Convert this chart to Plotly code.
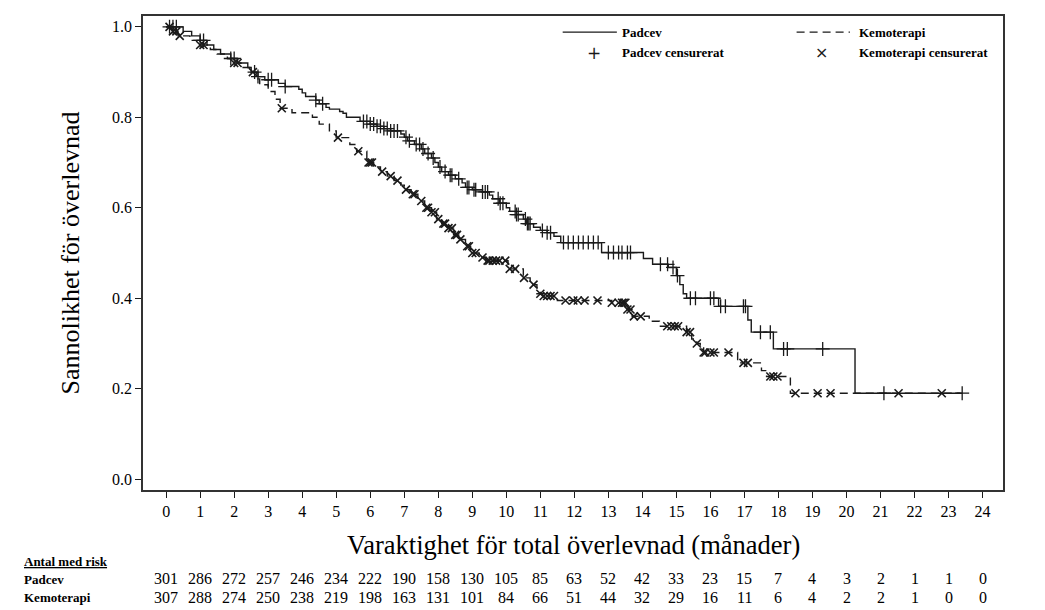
import numpy as np
import plotly.graph_objects as go

# ---------------- data ----------------
# Kaplan-Meier step points (time in months, survival after the step)
padcev_t = [0, 0.5, 0.75, 1.0, 1.2, 1.4, 1.6, 1.9, 2.1, 2.4, 2.5, 2.7, 2.9, 3.3, 3.5, 3.9,
            4.0, 4.1, 4.4, 4.5, 4.7, 4.8, 5.1, 5.2, 5.3, 5.7, 6.0, 6.2, 6.4, 6.6, 6.9,
            7.0, 7.1, 7.3, 7.5, 7.6, 7.8, 7.9, 8.0, 8.1, 8.3, 8.5, 8.7, 8.8, 9.0, 9.3,
            9.5, 9.6, 9.8, 10.0, 10.1, 10.3, 10.5, 10.6, 10.8, 11.0, 11.2, 11.4, 11.6,
            12.8, 14.03, 14.3, 14.76, 15.0, 15.1, 15.2, 15.3, 16.24, 17.1, 17.2, 17.85,
            20.25, 23.4]
padcev_s = [1.0, 0.99, 0.98, 0.97, 0.96, 0.95, 0.94, 0.93, 0.92, 0.91, 0.90, 0.89, 0.883,
            0.875, 0.868, 0.862, 0.854, 0.846, 0.838, 0.83, 0.822, 0.818, 0.813, 0.809,
            0.80, 0.791, 0.785, 0.78, 0.775, 0.77, 0.763, 0.756, 0.748, 0.74, 0.73, 0.72,
            0.71, 0.70, 0.69, 0.68, 0.672, 0.664, 0.655, 0.645, 0.64, 0.635, 0.628, 0.62,
            0.61, 0.60, 0.592, 0.585, 0.575, 0.565, 0.557, 0.55, 0.545, 0.537, 0.523,
            0.501, 0.488, 0.475, 0.468, 0.45, 0.43, 0.41, 0.40, 0.382, 0.352, 0.325,
            0.288, 0.19, 0.19]

kemo_t = [0, 0.2, 0.35, 0.7, 1.0, 1.3, 1.5, 1.8, 2.0, 2.2, 2.5, 2.65, 2.75, 3.0, 3.2, 3.35,
          3.7, 4.3, 4.5, 4.8, 5.0, 5.4, 5.6, 5.9, 6.1, 6.3, 6.5, 6.7, 6.9, 7.0, 7.2, 7.4,
          7.6, 7.8, 7.95, 8.1, 8.3, 8.45, 8.6, 8.8, 8.95, 9.2, 9.4, 10.05, 10.5, 10.7,
          10.9, 11.1, 11.5, 13.1, 13.55, 13.7, 14.2, 14.5, 15.3, 15.45, 15.6, 15.7, 15.8,
          16.8, 17.5, 17.65, 18.35, 23.35]
kemo_s = [1.0, 0.99, 0.98, 0.97, 0.96, 0.95, 0.94, 0.93, 0.92, 0.91, 0.90, 0.885, 0.872,
          0.857, 0.84, 0.82, 0.81, 0.80, 0.785, 0.77, 0.755, 0.74, 0.725, 0.70, 0.69,
          0.68, 0.67, 0.66, 0.65, 0.64, 0.63, 0.615, 0.60, 0.59, 0.575, 0.565, 0.555,
          0.54, 0.53, 0.515, 0.50, 0.49, 0.483, 0.465, 0.445, 0.43, 0.41, 0.405, 0.395,
          0.39, 0.375, 0.36, 0.349, 0.338, 0.325, 0.31, 0.30, 0.29, 0.28, 0.257, 0.24,
          0.227, 0.19, 0.19]

# censoring times
padcev_cens = [0.1, 0.2, 0.3, 1.0, 1.1, 1.9, 2.0, 2.6, 2.7, 3.0, 3.1, 3.5, 4.4, 4.6,
               5.8, 5.9, 6.0, 6.1, 6.2, 6.3, 6.4, 6.5, 6.6, 6.7, 6.8, 7.05, 7.15, 7.35,
               7.45, 7.55, 7.7, 7.85, 8.05, 8.2, 8.35, 8.4, 8.6, 8.85, 8.9, 9.05, 9.1,
               9.3, 9.38, 9.45, 9.76, 9.82, 9.9, 10.26, 10.3, 10.35, 10.56, 10.62, 10.66,
               10.7, 11.06, 11.2, 11.3, 11.68, 11.82, 11.97, 12.12, 12.26, 12.41, 12.56,
               12.7, 13.0, 13.15, 13.3, 13.4, 13.56, 13.65, 14.53, 14.74, 14.9, 15.03,
               15.41, 15.56, 16.0, 16.1, 16.3, 16.44, 16.97, 17.03, 17.47, 17.76, 18.15,
               18.26, 19.3, 21.1, 23.4]
kemo_cens = [0.1, 0.2, 0.3, 0.4, 1.0, 1.1, 2.0, 2.1, 2.55, 3.4, 5.05, 5.65, 5.95, 6.0,
             6.05, 6.35, 6.6, 6.8, 7.05, 7.25, 7.3, 7.5, 7.65, 7.7, 7.8, 7.9, 8.0, 8.15,
             8.2, 8.3, 8.4, 8.5, 8.55, 8.65, 8.85, 8.9, 9.0, 9.1, 9.3, 9.45, 9.5, 9.6,
             9.7, 9.8, 9.97, 10.1, 10.26, 10.52, 10.8, 11.0, 11.1, 11.2, 11.3, 11.4,
             11.74, 11.97, 12.1, 12.3, 12.68, 13.1, 13.3, 13.4, 13.45, 13.5, 13.56,
             13.65, 13.75, 13.95, 14.73, 14.85, 14.95, 15.05, 15.3, 15.4, 15.6, 15.8,
             15.85, 16.0, 16.1, 16.53, 16.97, 17.1, 17.76, 17.85, 17.97, 18.5, 19.15,
             19.53, 21.53, 22.8]

x_ticks = list(range(0, 25))
y_ticks = [0.0, 0.2, 0.4, 0.6, 0.8, 1.0]
risk_padcev = [301, 286, 272, 257, 246, 234, 222, 190, 158, 130, 105, 85, 63, 52, 42, 33,
               23, 15, 7, 4, 3, 2, 1, 1, 0]
risk_kemo = [307, 288, 274, 250, 238, 219, 198, 163, 131, 101, 84, 66, 51, 44, 32, 29,
             16, 11, 6, 4, 2, 2, 1, 0, 0]

# ---------------- figure ----------------
FONT = "Liberation Serif"
INK = "#1a1a1a"


def km_at(times, surv, t):
    t_arr = np.asarray(times)
    s_arr = np.asarray(surv)
    idx = np.searchsorted(t_arr, np.asarray(t), side="right") - 1
    return s_arr[np.clip(idx, 0, len(s_arr) - 1)]


fig = go.Figure()
fig.add_trace(go.Scatter(x=padcev_t, y=padcev_s, mode="lines", line_shape="hv",
                         line=dict(color=INK, width=1.4), name="Padcev", showlegend=False))
fig.add_trace(go.Scatter(x=kemo_t, y=kemo_s, mode="lines", line_shape="hv",
                         line=dict(color=INK, width=1.4, dash="8px,5px"),
                         name="Kemoterapi", showlegend=False))
fig.add_trace(go.Scatter(x=padcev_cens, y=km_at(padcev_t, padcev_s, padcev_cens),
                         mode="markers",
                         marker=dict(symbol="cross-thin", size=10,
                                     line=dict(color=INK, width=1.3)),
                         name="Padcev censurerat", showlegend=False))
fig.add_trace(go.Scatter(x=kemo_cens, y=km_at(kemo_t, kemo_s, kemo_cens),
                         mode="markers",
                         marker=dict(symbol="x-thin", size=8,
                                     line=dict(color=INK, width=1.6)),
                         name="Kemoterapi censurerat", showlegend=False))

# legend (drawn manually, top right inside plot)
leg_font = dict(family=FONT, size=13, color="black")
fig.add_shape(type="line", xref="paper", yref="paper", x0=0.488, x1=0.551, y0=0.966, y1=0.966,
              line=dict(color=INK, width=1.4))
fig.add_shape(type="line", xref="paper", yref="paper", x0=0.760, x1=0.822, y0=0.966, y1=0.966,
              line=dict(color=INK, width=1.4, dash="8px,5px"))
fig.add_annotation(xref="paper", yref="paper", x=0.5547, y=0.966, text="<b>Padcev</b>",
                   showarrow=False, xanchor="left", yanchor="middle", font=leg_font)
fig.add_annotation(xref="paper", yref="paper", x=0.830, y=0.966, text="<b>Kemoterapi</b>",
                   showarrow=False, xanchor="left", yanchor="middle", font=leg_font)
fig.add_annotation(xref="paper", yref="paper", x=0.5547, y=0.922,
                   text="<b>Padcev censurerat</b>",
                   showarrow=False, xanchor="left", yanchor="middle", font=leg_font)
fig.add_annotation(xref="paper", yref="paper", x=0.830, y=0.922,
                   text="<b>Kemoterapi censurerat</b>",
                   showarrow=False, xanchor="left", yanchor="middle", font=leg_font)
fig.add_annotation(xref="paper", yref="paper", x=0.5244, y=0.922, text="+",
                   showarrow=False, xanchor="center", yanchor="middle",
                   font=dict(family="DejaVu Sans", size=17, color=INK))
fig.add_annotation(xref="paper", yref="paper", x=0.7895, y=0.922, text="×",
                   showarrow=False, xanchor="center", yanchor="middle",
                   font=dict(family="DejaVu Sans", size=16, color=INK))

# risk table
num_font = dict(family=FONT, size=16, color="black")
lab_font = dict(family=FONT, size=13, color="black")
fig.add_annotation(xref="paper", yref="paper", x=-0.141, y=-0.151,
                   text="<b><u>Antal med risk</u></b>", showarrow=False,
                   xanchor="left", yanchor="middle", font=lab_font)
fig.add_annotation(xref="paper", yref="paper", x=-0.141, y=-0.189, text="<b>Padcev</b>",
                   showarrow=False, xanchor="left", yanchor="middle", font=lab_font)
fig.add_annotation(xref="paper", yref="paper", x=-0.141, y=-0.227, text="<b>Kemoterapi</b>",
                   showarrow=False, xanchor="left", yanchor="middle", font=lab_font)
for xv, rp, rk in zip(x_ticks, risk_padcev, risk_kemo):
    fig.add_annotation(xref="x", yref="paper", x=xv, y=-0.187, text=str(rp),
                       showarrow=False, xanchor="center", yanchor="middle", font=num_font)
    fig.add_annotation(xref="x", yref="paper", x=xv, y=-0.227, text=str(rk),
                       showarrow=False, xanchor="center", yanchor="middle", font=num_font)

# x-axis title
fig.add_annotation(xref="paper", yref="paper", x=0.501, y=-0.117,
                   text="Varaktighet för total överlevnad (månader)", showarrow=False,
                   xanchor="center", yanchor="middle",
                   font=dict(family=FONT, size=26.5, color="black"))

fig.update_xaxes(range=[-0.68, 24.6], tickmode="array", tickvals=x_ticks,
                 ticktext=[str(v) for v in x_ticks], ticks="outside", ticklen=6,
                 tickwidth=1.3, tickcolor=INK, showgrid=False, zeroline=False,
                 showline=True, linecolor="#333", linewidth=1.5, mirror=True,
                 tickfont=dict(family=FONT, size=16, color="black"))
fig.update_yaxes(range=[-0.024, 1.024], tickmode="array", tickvals=y_ticks,
                 ticktext=[f"{v:.1f}" for v in y_ticks], ticks="outside", ticklen=6,
                 tickwidth=1.3, tickcolor=INK, showgrid=False, zeroline=False,
                 showline=True, linecolor="#333", linewidth=1.5, mirror=True,
                 tickfont=dict(family=FONT, size=16, color="black"),
                 title=dict(text="Sannolikhet för överlevnad", standoff=25,
                            font=dict(family=FONT, size=26, color="black")))

# page body adds an 8px margin, so the figure is sized to fit the window
fig.update_layout(width=1037, height=602, paper_bgcolor="white", plot_bgcolor="white",
                  margin=dict(l=135, r=42, t=6, b=120), showlegend=False)

fig.write_html("out.html")
